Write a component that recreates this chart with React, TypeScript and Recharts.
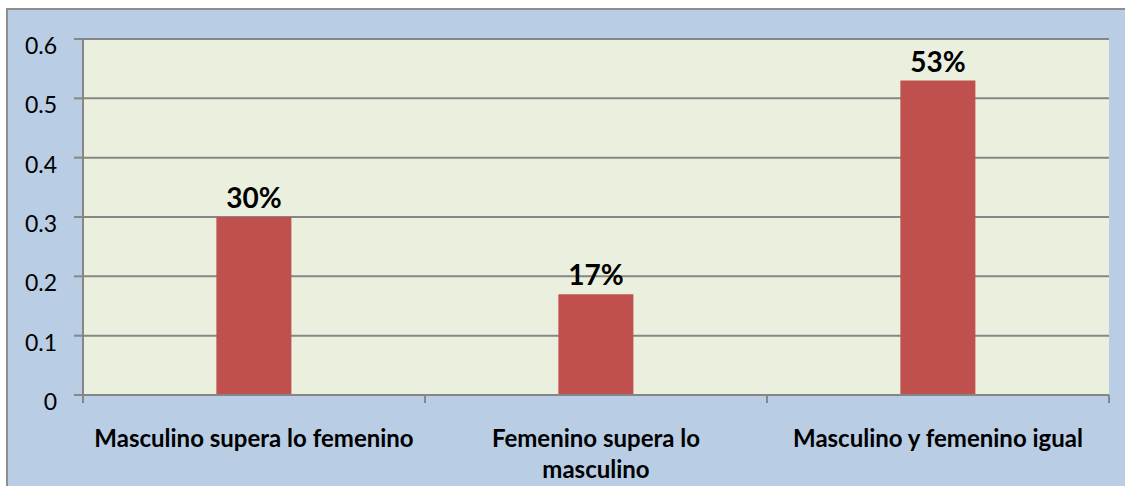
import { Bar, BarChart, CartesianGrid, LabelList, XAxis, YAxis } from "recharts";

const FONT = "Lato, 'Open Sans', sans-serif";
const GRID = "#868686"; // gris de las líneas y ejes
const BAR_COLOR = "#C0504D";
const PLOT_BG = "#EBF0DE";
const FRAME_BG = "#B9CDE5";

const categories = [
  "Masculino supera lo femenino",
  "Femenino supera lo masculino",
  "Masculino y femenino igual",
];
// cómo se parte cada etiqueta del eje X en la imagen
const categoryLines = [
  ["Masculino supera lo femenino"],
  ["Femenino supera lo", "masculino"],
  ["Masculino y femenino igual"],
];
const shares = [0.3, 0.17, 0.53];
const shareLabels = ["30%", "17%", "53%"];
const yTicks = [0, 0.1, 0.2, 0.3, 0.4, 0.5, 0.6];

const data = categories.map((name, i) => ({
  name,
  value: shares[i],
  label: shareLabels[i],
}));

const WIDTH = 1125;
const HEIGHT = 486;
const MARGIN = { top: 39, right: 16, bottom: 0, left: 0 };
const Y_AXIS_W = 83;
const BAND = (WIDTH - MARGIN.right - Y_AXIS_W) / categories.length;

function YTick({ x, y, payload }: any) {
  return (
    <text
      x={x}
      y={y + 15}
      textAnchor="end"
      fontFamily={FONT}
      fontSize={23}
      fill="#000"
    >
      {String(payload.value)}
    </text>
  );
}

function XTick({ x, y, payload, index }: any) {
  const lines = categoryLines[index] ?? [payload.value];
  return (
    <g>
      <line x1={x - BAND / 2} x2={x - BAND / 2} y1={y - 8} y2={y} stroke={GRID} strokeWidth={2} />
      <line x1={x + BAND / 2} x2={x + BAND / 2} y1={y - 8} y2={y} stroke={GRID} strokeWidth={2} />
      {lines.map((line: string, i: number) => (
        <text
          key={i}
          x={x}
          y={y + 44 + i * 31}
          textAnchor="middle"
          fontFamily={FONT}
          fontWeight="bold"
          fontSize={24}
          fill="#000"
        >
          {line}
        </text>
      ))}
    </g>
  );
}

export default function App() {
  return (
    <div
      style={{
        position: "fixed",
        left: 0,
        top: 0,
        width: WIDTH,
        height: HEIGHT,
        overflow: "hidden",
        background: "#fff",
      }}
    >
      <div
        style={{
          position: "absolute",
          left: 6,
          top: 8,
          width: WIDTH + 20,
          height: HEIGHT + 20,
          background: FRAME_BG,
          border: "2px solid #8E8E8E",
        }}
      />
      <div style={{ position: "absolute", left: 0, top: 0 }}>
        <BarChart
          width={WIDTH}
          height={HEIGHT}
          data={data}
          margin={MARGIN}
          barCategoryGap="39%"
        >
          <CartesianGrid
            vertical={false}
            fill={PLOT_BG}
            stroke={GRID}
            strokeWidth={2}
          />
          <XAxis
            dataKey="name"
            height={91}
            interval={0}
            axisLine={{ stroke: GRID, strokeWidth: 2 }}
            tickLine={false}
            tick={<XTick />}
          />
          <YAxis
            width={Y_AXIS_W}
            domain={[0, 0.6]}
            ticks={yTicks}
            interval={0}
            tickSize={9}
            tickMargin={17}
            axisLine={{ stroke: GRID, strokeWidth: 2 }}
            tickLine={{ stroke: GRID, strokeWidth: 2 }}
            tick={<YTick />}
          />
          <Bar dataKey="value" fill={BAR_COLOR} isAnimationActive={false}>
            <LabelList
              dataKey="label"
              position="top"
              offset={9}
              fontFamily={FONT}
              fontWeight="bold"
              fontSize={28}
              fill="#000"
            />
          </Bar>
        </BarChart>
      </div>
    </div>
  );
}
